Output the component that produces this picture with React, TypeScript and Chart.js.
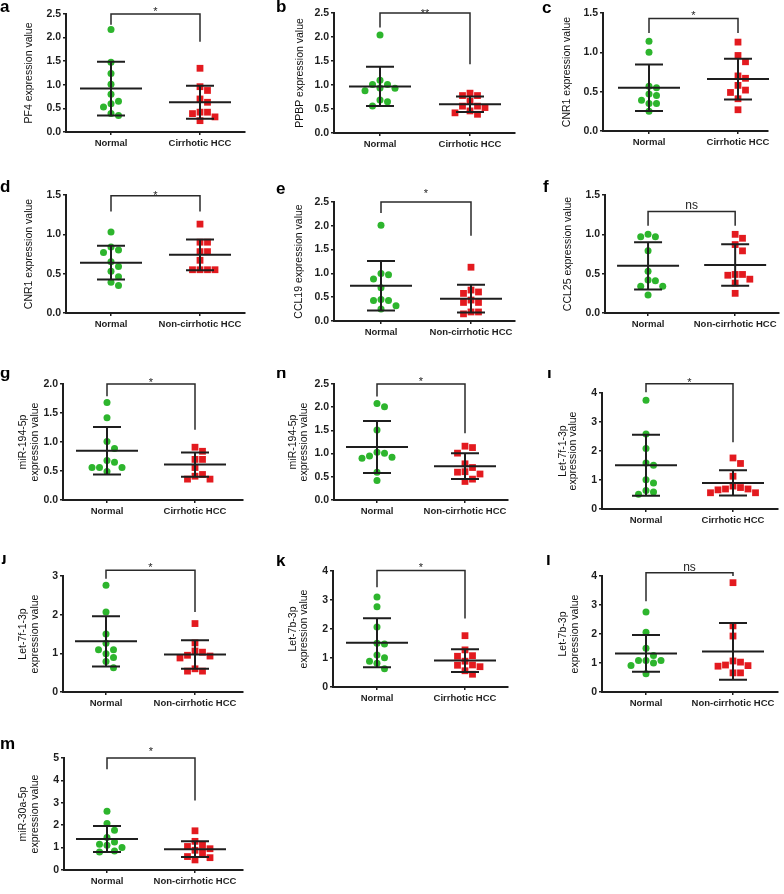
import React, { useEffect, useRef } from "react";
import { Chart, registerables } from "chart.js";

Chart.register(...registerables);

const FONT = '"Liberation Sans", Arial, Helvetica, sans-serif';
const GREEN = "#2db52d";
const RED = "#e31a1f";
const INK = "#1e1e1e";

// ---- category labels ----
const normalLabel = "Normal";
const cirrLabel = "Cirrhotic HCC";
const nonCirrLabel = "Non-cirrhotic HCC";

// ---- a: PF4 ----
const pf4Normal = [2.17, 1.48, 1.24, 1.01, 0.8, 0.65, 0.6, 0.53, 0.39, 0.35];
const pf4Cirr = [1.35, 0.96, 0.88, 0.7, 0.63, 0.42, 0.42, 0.39, 0.32, 0.24];
const pf4Mean = [0.92, 0.63];
const pf4Sd = [0.57, 0.35];
const pf4Bracket = [2.5, 2.27, 1.91];

// ---- b: PPBP ----
const ppbpNormal = [2.04, 1.1, 1.01, 1.01, 0.94, 0.93, 0.88, 0.69, 0.65, 0.56];
const ppbpCirr = [0.83, 0.78, 0.78, 0.66, 0.56, 0.56, 0.53, 0.46, 0.42, 0.39];
const ppbpMean = [0.97, 0.6];
const ppbpSd = [0.41, 0.16];
const ppbpBracket = [2.5, 2.2, 1.43];

// ---- c: CNR1 (cirrhotic) ----
const cnr1CNormal = [1.14, 1.0, 0.57, 0.55, 0.47, 0.45, 0.39, 0.35, 0.35, 0.25];
const cnr1Cirr = [1.13, 0.96, 0.88, 0.7, 0.67, 0.58, 0.52, 0.49, 0.41, 0.27];
const cnr1CMean = [0.55, 0.66];
const cnr1CSd = [0.295, 0.26];
const cnr1CBracket = [1.43, 1.245, 1.245];

// ---- d: CNR1 (non-cirrhotic) ----
const cnr1NNormal = [1.03, 0.84, 0.8, 0.77, 0.65, 0.59, 0.53, 0.46, 0.39, 0.35];
const cnr1NonCirr = [1.13, 0.9, 0.9, 0.78, 0.78, 0.67, 0.55, 0.55, 0.55, 0.55];
const cnr1NMean = [0.64, 0.74];
const cnr1NSd = [0.215, 0.195];
const cnr1NBracket = [1.49, 1.29, 1.29];

// ---- e: CCL19 ----
const ccl19Normal = [2.01, 1.0, 0.97, 0.88, 0.7, 0.45, 0.43, 0.43, 0.32, 0.25];
const ccl19NonCirr = [1.13, 0.65, 0.61, 0.58, 0.44, 0.39, 0.39, 0.19, 0.19, 0.15];
const ccl19Mean = [0.74, 0.47];
const ccl19Sd = [0.52, 0.29];
const ccl19Bracket = [2.5, 2.27, 1.79];

// ---- f: CCL25 ----
const ccl25Normal = [1.0, 0.97, 0.97, 0.79, 0.53, 0.42, 0.41, 0.34, 0.34, 0.23];
const ccl25NonCirr = [1.0, 0.95, 0.87, 0.79, 0.49, 0.49, 0.48, 0.43, 0.38, 0.25];
const ccl25Mean = [0.6, 0.61];
const ccl25Sd = [0.3, 0.265];
const ccl25Bracket = [1.29, 1.11, 1.11];

// ---- g: miR-194-5p (cirrhotic) ----
const mir194CNormal = [1.68, 1.42, 1.01, 0.89, 0.68, 0.65, 0.56, 0.56, 0.56, 0.49];
const mir194Cirr = [0.91, 0.84, 0.7, 0.7, 0.56, 0.44, 0.41, 0.36, 0.36];
const mir194CMean = [0.85, 0.61];
const mir194CSd = [0.41, 0.21];
const mir194CBracket = [2.0, 1.79, 1.21];

// ---- h: miR-194-5p (non-cirrhotic) ----
const mir194NNormal = [2.08, 2.01, 1.51, 1.03, 1.01, 0.95, 0.92, 0.9, 0.6, 0.42];
const mir194NonCirr = [1.16, 1.13, 1.01, 0.78, 0.7, 0.61, 0.6, 0.56, 0.45, 0.4];
const mir194NMean = [1.14, 0.73];
const mir194NSd = [0.56, 0.275];
const mir194NBracket = [2.5, 2.23, 1.44];

// ---- i: Let-7f-1-3p (cirrhotic) ----
const let7f1CNormal = [3.75, 2.59, 2.09, 1.59, 1.51, 1.01, 0.9, 0.64, 0.59, 0.51];
const let7f1Cirr = [1.76, 1.57, 1.13, 0.79, 0.74, 0.69, 0.69, 0.66, 0.56, 0.56];
const let7f1CMean = [1.51, 0.9];
const let7f1CSd = [1.05, 0.435];
const let7f1CBracket = [4.32, 4.03, 2.3];

// ---- j: Let-7f-1-3p (non-cirrhotic) ----
const let7f1NNormal = [2.76, 2.07, 1.5, 1.26, 1.09, 1.09, 0.99, 0.89, 0.79, 0.63];
const let7f1NonCirr = [1.77, 1.27, 1.06, 1.03, 0.95, 0.93, 0.88, 0.6, 0.54, 0.54];
const let7f1NMean = [1.31, 0.97];
const let7f1NSd = [0.65, 0.37];
const let7f1NBracket = [3.15, 2.93, 2.07];

// ---- k: Let-7b-3p (cirrhotic) ----
const let7bCNormal = [3.1, 2.77, 2.07, 1.51, 1.48, 1.1, 1.01, 0.89, 0.82, 0.63];
const let7bCirr = [1.77, 1.28, 1.08, 1.06, 0.89, 0.76, 0.75, 0.7, 0.56, 0.44];
const let7bCMean = [1.53, 0.91];
const let7bCSd = [0.845, 0.39];
const let7bCBracket = [4.02, 3.44, 2.36];

// ---- l: Let-7b-3p (non-cirrhotic) ----
const let7bNNormal = [2.76, 2.06, 1.51, 1.26, 1.09, 1.09, 1.09, 1.0, 0.91, 0.63];
const let7bNonCirr = [3.77, 2.28, 1.93, 1.07, 1.03, 0.93, 0.91, 0.89, 0.66, 0.66];
const let7bNMean = [1.33, 1.4];
const let7bNSd = [0.635, 0.98];
const let7bNBracket = [4.11, 3.13, 4.0];

// ---- m: miR-30a-5p ----
const mir30Normal = [2.62, 2.08, 1.77, 1.45, 1.25, 1.15, 1.1, 1.0, 0.85, 0.8];
const mir30NonCirr = [1.75, 1.28, 1.1, 1.05, 0.95, 0.88, 0.75, 0.6, 0.55, 0.45];
const mir30Mean = [1.38, 0.93];
const mir30Sd = [0.58, 0.35];
const mir30Bracket = [5.0, 4.5, 3.1];

// ---- y-axis ticks: [max, step, decimals] ----
const ticks25 = [2.5, 0.5, 1];
const ticks15 = [1.5, 0.5, 1];
const ticks20 = [2.0, 0.5, 1];
const ticks3 = [3, 1, 0];
const ticks4 = [4, 1, 0];
const ticks5 = [5, 1, 0];

type Panel = {
  letter: string;
  cell: number[];
  plot: number[];
  cats: number[];
  letterPos: number[];
  title: string[];
  titleX: number[];
  group: string;
  normal: number[];
  hcc: number[];
  mean: number[];
  sd: number[];
  bracket: number[];
  sig: string;
  sigGap: number;
  yt: number[];
};

const PANELS: Panel[] = [
  { letter: "a", cell: [0, 0, 260, 180], plot: [66, 14, 245, 132], cats: [111, 200], letterPos: [0, 12], title: ["PF4 expression value"], titleX: [29], group: cirrLabel, normal: pf4Normal, hcc: pf4Cirr, mean: pf4Mean, sd: pf4Sd, bracket: pf4Bracket, sig: "*", sigGap: 5, yt: ticks25 },
  { letter: "b", cell: [260, 0, 260, 180], plot: [334, 13, 515, 133], cats: [380, 470], letterPos: [276, 12], title: ["PPBP expression value"], titleX: [300], group: cirrLabel, normal: ppbpNormal, hcc: ppbpCirr, mean: ppbpMean, sd: ppbpSd, bracket: ppbpBracket, sig: "**", sigGap: 2, yt: ticks25 },
  { letter: "c", cell: [520, 0, 264, 180], plot: [603, 13, 768, 131], cats: [649, 738], letterPos: [542, 13], title: ["CNR1 expression value"], titleX: [567], group: cirrLabel, normal: cnr1CNormal, hcc: cnr1Cirr, mean: cnr1CMean, sd: cnr1CSd, bracket: cnr1CBracket, sig: "*", sigGap: 6, yt: ticks15 },
  { letter: "d", cell: [0, 180, 260, 190], plot: [66, 195, 245, 313], cats: [111, 200], letterPos: [0, 192], title: ["CNR1 expression value"], titleX: [29], group: nonCirrLabel, normal: cnr1NNormal, hcc: cnr1NonCirr, mean: cnr1NMean, sd: cnr1NSd, bracket: cnr1NBracket, sig: "*", sigGap: 3, yt: ticks15 },
  { letter: "e", cell: [260, 180, 260, 190], plot: [334, 202, 515, 321], cats: [381, 471], letterPos: [276, 194], title: ["CCL19 expression value"], titleX: [299], group: nonCirrLabel, normal: ccl19Normal, hcc: ccl19NonCirr, mean: ccl19Mean, sd: ccl19Sd, bracket: ccl19Bracket, sig: "*", sigGap: 11, yt: ticks25 },
  { letter: "f", cell: [520, 180, 264, 190], plot: [605, 195, 783, 313], cats: [649, 738], letterPos: [543, 192], title: ["CCL25 expression value"], titleX: [568], group: nonCirrLabel, normal: ccl25Normal, hcc: ccl25NonCirr, mean: ccl25Mean, sd: ccl25Sd, bracket: ccl25Bracket, sig: "ns", sigGap: 6, yt: ticks15 },
  { letter: "g", cell: [0, 370, 260, 185], plot: [63, 384, 243, 500], cats: [107, 195], letterPos: [0, 378], title: ["miR-194-5p", "expression value"], titleX: [23, 35], group: cirrLabel, normal: mir194CNormal, hcc: mir194Cirr, mean: mir194CMean, sd: mir194CSd, bracket: mir194CBracket, sig: "*", sigGap: 4, yt: ticks20 },
  { letter: "h", cell: [260, 370, 260, 185], plot: [334, 384, 508, 500], cats: [377, 465], letterPos: [276, 378], title: ["miR-194-5p", "expression value"], titleX: [293, 304], group: nonCirrLabel, normal: mir194NNormal, hcc: mir194NonCirr, mean: mir194NMean, sd: mir194NSd, bracket: mir194NBracket, sig: "*", sigGap: 5, yt: ticks25 },
  { letter: "i", cell: [520, 370, 264, 185], plot: [602, 393, 778, 509], cats: [646, 733], letterPos: [547, 378], title: ["Let-7f-1-3p", "expression value"], titleX: [563, 573], group: cirrLabel, normal: let7f1CNormal, hcc: let7f1Cirr, mean: let7f1CMean, sd: let7f1CSd, bracket: let7f1CBracket, sig: "*", sigGap: 4, yt: ticks4 },
  { letter: "j", cell: [0, 555, 260, 185], plot: [63, 576, 243, 692], cats: [106, 195], letterPos: [2, 561], title: ["Let-7f-1-3p", "expression value"], titleX: [23, 35], group: nonCirrLabel, normal: let7f1NNormal, hcc: let7f1NonCirr, mean: let7f1NMean, sd: let7f1NSd, bracket: let7f1NBracket, sig: "*", sigGap: 6, yt: ticks3 },
  { letter: "k", cell: [260, 555, 260, 185], plot: [333, 571, 508, 687], cats: [377, 465], letterPos: [276, 566], title: ["Let-7b-3p", "expression value"], titleX: [293, 304], group: cirrLabel, normal: let7bCNormal, hcc: let7bCirr, mean: let7bCMean, sd: let7bCSd, bracket: let7bCBracket, sig: "*", sigGap: 6, yt: ticks4 },
  { letter: "l", cell: [520, 555, 264, 185], plot: [602, 576, 778, 692], cats: [646, 733], letterPos: [546, 565], title: ["Let-7b-3p", "expression value"], titleX: [563, 575], group: nonCirrLabel, normal: let7bNNormal, hcc: let7bNonCirr, mean: let7bNMean, sd: let7bNSd, bracket: let7bNBracket, sig: "ns", sigGap: 5, yt: ticks4 },
  { letter: "m", cell: [0, 740, 260, 154], plot: [64, 758, 243, 870], cats: [107, 195], letterPos: [0, 749], title: ["miR-30a-5p", "expression value"], titleX: [23, 35], group: nonCirrLabel, normal: mir30Normal, hcc: mir30NonCirr, mean: mir30Mean, sd: mir30Sd, bracket: mir30Bracket, sig: "*", sigGap: 9, yt: ticks5 },
];

// Beeswarm placement (column scatter) in pixel space, returned in category units
function swarm(values: number[], center: number, pxPerY: number, pxPerX: number, d: number): number[] {
  const order = values.map((_, i) => i).sort((a, b) => values[b] - values[a]);
  const placed: { x: number; y: number }[] = [];
  const out: number[] = new Array(values.length).fill(center);
  for (const i of order) {
    const y = values[i] * pxPerY;
    let chosen = 0;
    for (let k = 0; k < 30; k++) {
      const off = k === 0 ? 0 : (k % 2 === 1 ? 1 : -1) * Math.ceil(k / 2) * d;
      if (placed.every((p) => Math.hypot(p.x - off, p.y - y) >= d - 0.01)) {
        chosen = off;
        break;
      }
    }
    placed.push({ x: chosen, y });
    out[i] = center + chosen / pxPerX;
  }
  return out;
}

function buildChart(canvas: HTMLCanvasElement, p: Panel) {
  const [cx, cy, cw, ch] = p.cell;
  const [L, T, R, B] = p.plot;
  const [c1, c2] = p.cats;
  const sp = c2 - c1;
  const xMin = 1 - (c1 - L) / sp;
  const xMax = 2 + (R - c2) / sp;
  const [yMax, yStep, dec] = p.yt;
  const pxY = (B - T) / yMax;
  const nx = swarm(p.normal, 1, pxY, sp, 7.5);
  const hx = swarm(p.hcc, 2, pxY, sp, 7.5);

  const deco = {
    id: "deco",
    afterDraw(chart: any) {
      const ctx = chart.ctx as CanvasRenderingContext2D;
      const xs = chart.scales.x;
      const ys = chart.scales.y;
      ctx.save();
      // mean and SD
      ctx.strokeStyle = INK;
      ctx.lineWidth = 2;
      ctx.lineCap = "butt";
      [1, 2].forEach((c, i) => {
        const x = xs.getPixelForValue(c);
        const ym = ys.getPixelForValue(p.mean[i]);
        const yt = ys.getPixelForValue(p.mean[i] + p.sd[i]);
        const yb = ys.getPixelForValue(p.mean[i] - p.sd[i]);
        ctx.beginPath();
        ctx.moveTo(x - 31, ym);
        ctx.lineTo(x + 31, ym);
        ctx.moveTo(x - 14, yt);
        ctx.lineTo(x + 14, yt);
        ctx.moveTo(x - 14, yb);
        ctx.lineTo(x + 14, yb);
        ctx.moveTo(x, yt);
        ctx.lineTo(x, yb);
        ctx.stroke();
      });
      // significance bracket
      const x1 = xs.getPixelForValue(1);
      const x2 = xs.getPixelForValue(2);
      const bt = ys.getPixelForValue(p.bracket[0]);
      ctx.lineWidth = 1.5;
      ctx.strokeStyle = "#2a2a2a";
      ctx.beginPath();
      ctx.moveTo(x1, ys.getPixelForValue(p.bracket[1]));
      ctx.lineTo(x1, bt);
      ctx.lineTo(x2, bt);
      ctx.lineTo(x2, ys.getPixelForValue(p.bracket[2]));
      ctx.stroke();
      // label
      ctx.fillStyle = INK;
      ctx.textAlign = "center";
      ctx.textBaseline = "alphabetic";
      const centerY = bt - p.sigGap;
      if (p.sig === "ns") {
        ctx.font = `12px ${FONT}`;
        ctx.fillText(p.sig, (x1 + x2) / 2, centerY + 0.26 * 12);
      } else {
        ctx.font = `11px ${FONT}`;
        ctx.fillText(p.sig, (x1 + x2) / 2, centerY + 0.58 * 11);
      }
      // y-axis title
      ctx.font = `10.5px ${FONT}`;
      ctx.fillStyle = "#111";
      ctx.textBaseline = "middle";
      const midY = (T + B) / 2 - cy;
      p.title.forEach((line, i) => {
        ctx.save();
        ctx.translate(p.titleX[i] - cx, midY);
        ctx.rotate(-Math.PI / 2);
        ctx.fillText(line, 0, 0);
        ctx.restore();
      });
      // panel letter
      ctx.font = `bold 17px ${FONT}`;
      ctx.textAlign = "left";
      ctx.textBaseline = "alphabetic";
      ctx.fillStyle = "#000";
      ctx.fillText(p.letter, p.letterPos[0] - cx, p.letterPos[1] - cy);
      ctx.restore();
    },
  };

  const gridOpts = {
    display: true,
    drawOnChartArea: false,
    drawTicks: true,
    tickLength: 3,
    color: INK,
    tickColor: INK,
    lineWidth: 1.5,
  };

  return new Chart(canvas, {
    type: "scatter",
    data: {
      datasets: [
        {
          data: p.normal.map((v, i) => ({ x: nx[i], y: v })),
          pointStyle: "circle",
          pointRadius: 3.5,
          backgroundColor: GREEN,
          borderWidth: 0,
          clip: false,
        },
        {
          data: p.hcc.map((v, i) => ({ x: hx[i], y: v })),
          pointStyle: "rect",
          pointRadius: 4.8,
          backgroundColor: RED,
          borderWidth: 0,
          clip: false,
        },
      ],
    },
    options: {
      responsive: false,
      animation: false,
      events: [],
      layout: { padding: { top: T - cy, right: cx + cw - R, left: 0, bottom: 0 } },
      plugins: { legend: { display: false }, tooltip: { enabled: false } },
      scales: {
        x: {
          type: "linear",
          min: xMin,
          max: xMax,
          afterFit: (s: any) => {
            s.height = cy + ch - B;
          },
          afterBuildTicks: (s: any) => {
            s.ticks = [{ value: 1 }, { value: 2 }];
          },
          ticks: {
            callback: (v: any) => (v === 1 ? normalLabel : p.group),
            font: { family: FONT, size: 9.5, weight: "bold" },
            color: INK,
            padding: 3,
            maxRotation: 0,
            autoSkip: false,
          },
          grid: gridOpts,
          border: { display: true, color: INK, width: 2 },
        },
        y: {
          type: "linear",
          min: 0,
          max: yMax,
          afterFit: (s: any) => {
            s.width = L - cx;
          },
          ticks: {
            stepSize: yStep,
            callback: (v: any) => Number(v).toFixed(dec),
            font: { family: FONT, size: 10.5, weight: "bold" },
            color: INK,
            padding: 2,
          },
          grid: gridOpts,
          border: { display: true, color: INK, width: 2 },
        },
      },
    },
    plugins: [deco],
  } as any);
}

function PanelCanvas({ p }: { p: Panel }) {
  const ref = useRef<HTMLCanvasElement>(null);
  useEffect(() => {
    if (!ref.current) return;
    const chart = buildChart(ref.current, p);
    return () => chart.destroy();
  }, [p]);
  const [cx, cy, cw, ch] = p.cell;
  return (
    <canvas
      ref={ref}
      width={cw}
      height={ch}
      style={{ position: "absolute", left: cx, top: cy, width: cw, height: ch }}
    />
  );
}

export default function App() {
  return (
    <div
      style={{
        position: "absolute",
        left: 0,
        top: 0,
        width: 784,
        height: 894,
        background: "#fff",
        overflow: "hidden",
      }}
    >
      {PANELS.map((p) => (
        <PanelCanvas key={p.letter} p={p} />
      ))}
    </div>
  );
}
